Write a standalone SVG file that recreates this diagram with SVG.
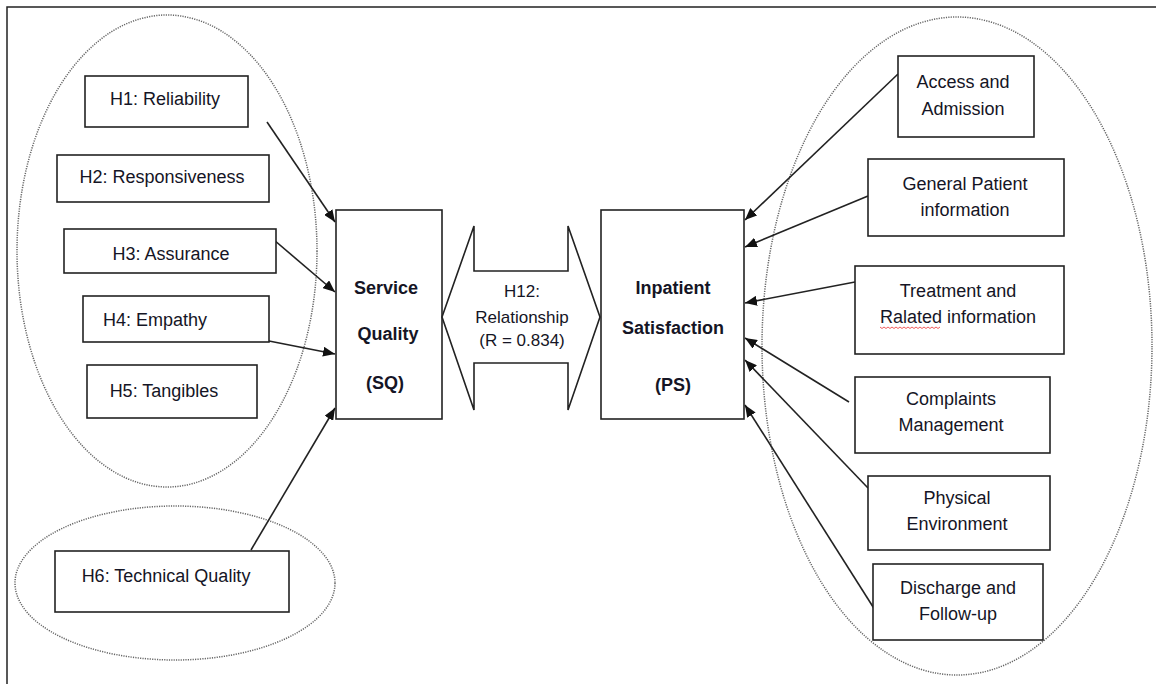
<svg xmlns="http://www.w3.org/2000/svg" width="1156" height="684" viewBox="0 0 1156 684">
<style>
.box{fill:#fff;stroke:#222;stroke-width:1.6}
.ell{fill:none;stroke:#666;stroke-width:1.5;stroke-dasharray:1.2 1.2}
.t{font-family:"Liberation Sans",Arial,sans-serif;font-size:18px;fill:#151525;text-anchor:middle}
.s{font-size:17px}
.b{font-family:"Liberation Sans",Arial,sans-serif;font-size:18px;font-weight:bold;fill:#151525;text-anchor:middle}
.c{stroke:#222;stroke-width:1.6;fill:none;marker-end:url(#ah)}
</style>
<defs>
<marker id="ah" viewBox="0 0 12 10" refX="12" refY="5" markerWidth="12" markerHeight="10" markerUnits="userSpaceOnUse" orient="auto">
<path d="M0,0 L12,5 L0,10 Z" fill="#111"/>
</marker>
</defs>
<rect x="0" y="0" width="1156" height="684" fill="#fff"/>
<rect x="7" y="7" width="1170" height="700" fill="none" stroke="#222" stroke-width="1.5"/>
<g id="groups">
<ellipse class="ell" cx="167" cy="251" rx="150" ry="236"/>
<ellipse class="ell" cx="175" cy="583" rx="160" ry="77"/>
<ellipse class="ell" cx="957" cy="346" rx="195" ry="329"/>
</g>
<g id="connectors">
<line class="c" x1="267" y1="122" x2="335" y2="222"/>
<line class="c" x1="267" y1="234" x2="335" y2="292"/>
<line class="c" x1="269" y1="341" x2="335" y2="354"/>
<line class="c" x1="251" y1="550" x2="335" y2="408"/>
<line class="c" x1="898" y1="74" x2="745" y2="220"/>
<line class="c" x1="868" y1="196" x2="745" y2="247"/>
<line class="c" x1="855" y1="282" x2="745" y2="303"/>
<line class="c" x1="849" y1="402" x2="745" y2="338"/>
<line class="c" x1="868" y1="488" x2="745" y2="360"/>
<line class="c" x1="875" y1="610" x2="745" y2="405"/>
</g>
<g id="h1"><rect class="box" x="85" y="76" width="163" height="51"/><text class="t" x="165" y="105">H1: Reliability</text></g>
<g id="h2"><rect class="box" x="57" y="155" width="212" height="47"/><text class="t" x="162" y="183">H2: Responsiveness</text></g>
<g id="h3"><rect class="box" x="64" y="229" width="212" height="44"/><text class="t" x="171" y="260">H3: Assurance</text></g>
<g id="h4"><rect class="box" x="83" y="296" width="186" height="46"/><text class="t" x="155" y="326">H4: Empathy</text></g>
<g id="h5"><rect class="box" x="87" y="365" width="170" height="53"/><text class="t" x="164" y="397">H5: Tangibles</text></g>
<g id="h6"><rect class="box" x="55" y="551" width="234" height="61"/><text class="t" x="166" y="582">H6: Technical Quality</text></g>
<g id="sq"><rect class="box" x="336" y="210" width="106" height="209"/>
<text class="b" x="386" y="294">Service</text><text class="b" x="388" y="340">Quality</text><text class="b" x="385" y="389">(SQ)</text></g>
<g id="h12"><polygon class="box" points="442,317 474,226 474,271 568,271 568,226 600,317 568,410 568,363 474,363 474,410"/>
<text class="t s" x="522" y="297">H12:</text><text class="t s" x="522" y="323">Relationship</text><text class="t s" x="522" y="346">(R = 0.834)</text></g>
<g id="ps"><rect class="box" x="601" y="210" width="143" height="209"/>
<text class="b" x="673" y="294">Inpatient</text><text class="b" x="673" y="334">Satisfaction</text><text class="b" x="673" y="391">(PS)</text></g>
<g id="access"><rect class="box" x="898" y="56" width="136" height="81"/><text class="t" x="963" y="88">Access and</text><text class="t" x="963" y="115">Admission</text></g>
<g id="general"><rect class="box" x="868" y="159" width="196" height="77"/><text class="t" x="965" y="190">General Patient</text><text class="t" x="965" y="216">information</text></g>
<g id="treatment"><rect class="box" x="855" y="266" width="209" height="88"/><text class="t" x="958" y="297">Treatment and</text><text class="t" x="958" y="323">Ralated information</text>
<path d="M880,327 l2,1.5 l2,-1.5 l2,1.5 l2,-1.5 l2,1.5 l2,-1.5 l2,1.5 l2,-1.5 l2,1.5 l2,-1.5 l2,1.5 l2,-1.5 l2,1.5 l2,-1.5 l2,1.5 l2,-1.5 l2,1.5 l2,-1.5 l2,1.5 l2,-1.5 l2,1.5 l2,-1.5 l2,1.5 l2,-1.5 l2,1.5 l2,-1.5 l2,1.5 l2,-1.5 l2,1.5 l2,-1.5" fill="none" stroke="#e33" stroke-width="0.8"/></g>
<g id="complaints"><rect class="box" x="855" y="377" width="195" height="76"/><text class="t" x="951" y="405">Complaints</text><text class="t" x="951" y="431">Management</text></g>
<g id="physical"><rect class="box" x="868" y="476" width="182" height="74"/><text class="t" x="957" y="504">Physical</text><text class="t" x="957" y="530">Environment</text></g>
<g id="discharge"><rect class="box" x="873" y="564" width="170" height="76"/><text class="t" x="958" y="594">Discharge and</text><text class="t" x="958" y="620">Follow-up</text></g>
</svg>
